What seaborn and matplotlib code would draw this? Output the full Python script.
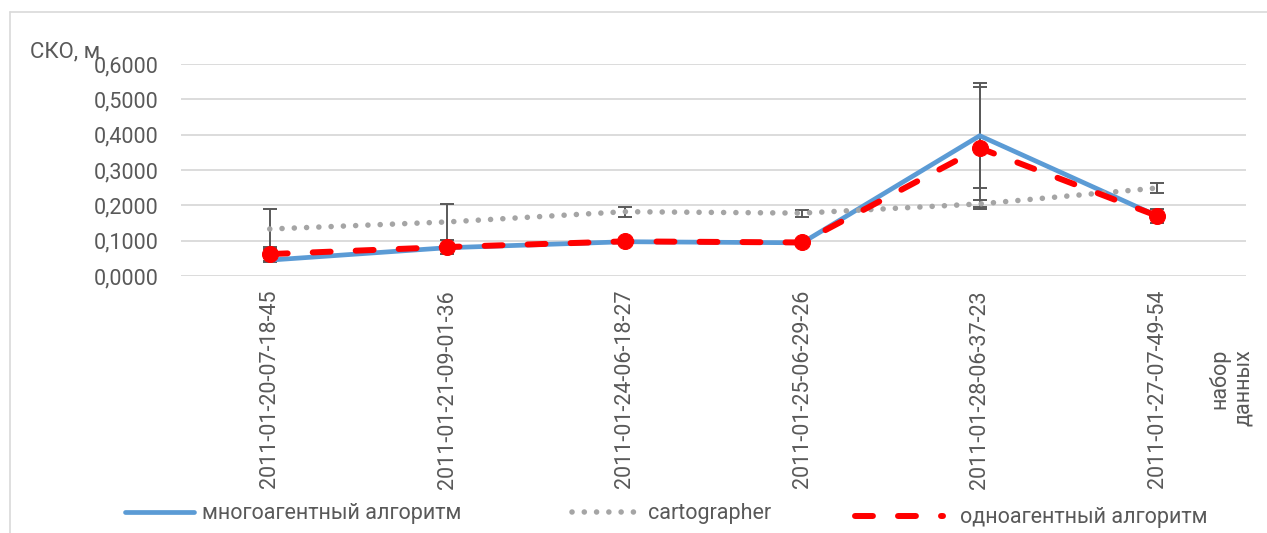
import numpy as np
import pandas as pd
import matplotlib
matplotlib.use("Agg")
import matplotlib.pyplot as plt
from matplotlib.lines import Line2D
from matplotlib.ticker import FuncFormatter
import seaborn as sns

# Data sets (x categories) and RMSE values per method
categories = [
    "2011-01-20-07-18-45",
    "2011-01-21-09-01-36",
    "2011-01-24-06-18-27",
    "2011-01-25-06-29-26",
    "2011-01-28-06-37-23",
    "2011-01-27-07-49-54",
]
multi_agent = [0.045, 0.080, 0.097, 0.094, 0.397, 0.170]
cartographer = [0.133, 0.153, 0.182, 0.178, 0.204, 0.249]
single_agent = [0.062, 0.082, 0.098, 0.095, 0.362, 0.170]

# Error bar half-widths per method
multi_agent_err = [0.005, 0.005, 0.005, 0.005, 0.148, 0.005]
cartographer_err = [0.057, 0.052, 0.014, 0.010, 0.010, 0.014]
single_agent_err = [0.020, 0.020, 0.005, 0.005, 0.173, 0.020]

series_names = ["многоагентный алгоритм", "cartographer", "одноагентный алгоритм"]
y_ticks = [0.0, 0.1, 0.2, 0.3, 0.4, 0.5, 0.6]

TEXT = "#595959"
GRID = "#d9d9d9"
BLUE = "#5b9bd5"
GREY = "#a5a5a5"
RED = "#ff0000"

sns.set_theme(style="white")
plt.rcParams["font.family"] = ["Roboto", "DejaVu Sans"]

W, H = 1267, 533
fig = plt.figure(figsize=(W / 100, H / 100), dpi=100)
ax = fig.add_axes([181 / W, 1 - 276 / H, (1246 - 181) / W, (276 - 64) / H])

df = pd.DataFrame({
    "set": categories,
    series_names[0]: multi_agent,
    series_names[1]: cartographer,
    series_names[2]: single_agent,
})

styles = {
    series_names[0]: dict(color=BLUE, lw=3.4, ls="-", marker=None, ms=0),
    series_names[1]: dict(color=GREY, lw=4.0, ls=(0, (0.01, 2.2)), marker=None, ms=0),
    series_names[2]: dict(color=RED, lw=4.3, ls=(0, (3.0, 4.2)), marker="o", ms=11.5),
}
errors = {
    series_names[0]: multi_agent_err,
    series_names[1]: cartographer_err,
    series_names[2]: single_agent_err,
}

handles = {}
for name in series_names:
    st = styles[name]
    sns.lineplot(data=df, x="set", y=name, sort=False, errorbar=None, ax=ax,
                 color=st["color"], linewidth=st["lw"], zorder=4 if st["marker"] else 3)
    line = ax.lines[-1]
    line.set_linestyle(st["ls"])
    line.set_dash_capstyle("round")
    line.set_solid_capstyle("round")
    if st["marker"]:
        line.set_marker(st["marker"])
        line.set_markersize(st["ms"])
        line.set_markerfacecolor(st["color"])
        line.set_markeredgecolor(st["color"])
    ax.errorbar(df["set"], df[name], yerr=errors[name], fmt="none",
                ecolor=TEXT, elinewidth=1.4, capsize=5, capthick=1.4, zorder=2.5)
    handles[name] = Line2D([], [], color=st["color"], lw=st["lw"], ls=st["ls"],
                           dash_capstyle="round", solid_capstyle="round")

ax.set_xlim(-0.5, len(categories) - 0.5)
ax.set_ylim(0, 0.6)
ax.set_yticks(y_ticks)
ax.yaxis.set_major_formatter(FuncFormatter(lambda v, _: f"{v:.4f}".replace(".", ",")))
ax.yaxis.grid(True, color=GRID, lw=1.3)
ax.xaxis.grid(False)
ax.set_axisbelow(True)
for sp in ax.spines.values():
    sp.set_visible(False)
ax.set_xlabel("")
ax.set_ylabel("")
ax.tick_params(axis="y", length=0, pad=16, labelsize=15.5, labelcolor=TEXT)
ax.tick_params(axis="x", length=0, pad=10, labelsize=15.5, labelcolor=TEXT, rotation=90)

# Axis titles
fig.text(30 / W, 1 - 57 / H, "СКО, м", fontsize=16, color=TEXT, ha="left", va="baseline")
fig.text(1231 / W, 1 - 349 / H, "набор\nданных", fontsize=15.5, color=TEXT,
         rotation=90, ha="center", va="top", multialignment="right", linespacing=1.15)

# Legend entries placed along the bottom
legend_spec = [
    (series_names[0], 125, 514, 3.2, 0.4),
    (series_names[1], 572, 514, 3.1, 0.45),
    (series_names[2], 855, 518, 4.1, 0.8),
]
for name, x0, yc, hl, tp in legend_spec:
    lg = fig.legend([handles[name]], [name], loc="center left",
                    bbox_to_anchor=(x0 / W, 1 - yc / H), frameon=False,
                    fontsize=15.5, handlelength=hl, handletextpad=tp,
                    borderpad=0, borderaxespad=0)
    for t in lg.get_texts():
        t.set_color(TEXT)

# Chart frame
fig.add_artist(Line2D([10 / W, 10 / W], [0, 1 - 12 / H], transform=fig.transFigure,
                      color=GRID, lw=1.2))
fig.add_artist(Line2D([10 / W, 1], [1 - 12 / H, 1 - 12 / H], transform=fig.transFigure,
                      color=GRID, lw=1.2))

fig.savefig("out.png", dpi=100, facecolor="white")
